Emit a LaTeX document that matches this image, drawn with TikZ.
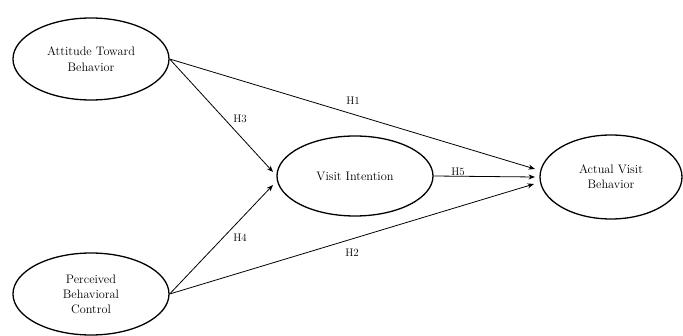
\documentclass[tikz,border=0pt]{standalone}
\usetikzlibrary{shapes.geometric,arrows.meta}
\begin{document}
\begin{tikzpicture}[x=1pt,y=-1pt,
  construct/.style={ellipse,draw,line width=1.3pt,inner sep=0pt,align=center,
    font=\fontsize{12.3}{15}\selectfont},
  path/.style={line width=0.8pt,-{Stealth[length=6.5pt,width=5pt]}},
  hlabel/.style={font=\fontsize{11}{12}\selectfont}]
  \useasboundingbox (0,0) rectangle (683,336);
  % latent constructs
  \node[construct,minimum width=156pt,minimum height=82pt] (att) at (91,59)
    {Attitude Toward\\[1.5pt]Behavior};
  \node[construct,minimum width=156pt,minimum height=82pt] (pbc) at (91,294)
    {Perceived\\Behavioral\\Control};
  \node[construct,minimum width=156pt,minimum height=80pt] (vi) at (355,176)
    {Visit Intention};
  \node[construct,minimum width=142pt,minimum height=84pt] (avb) at (611,177)
    {Actual Visit\\Behavior};
  % arrow tips stop short of the target ellipses
  \coordinate (viA) at (273,172);
  \coordinate (viB) at (273,185);
  \coordinate (avA) at (535,169);
  \coordinate (avB) at (535,177);
  \coordinate (avC) at (534,184);
  % hypothesised paths
  \draw[path] (att.east) -- (avA);
  \draw[path] (att.east) -- (viA);
  \draw[path] (pbc.east) -- (viB);
  \draw[path] (pbc.east) -- (avC);
  \draw[path] (vi.east) -- (avB);
  % path labels
  \node[hlabel] (h1) at (353,101) {H1};
  \node[hlabel] (h3) at (240,119) {H3};
  \node[hlabel] (h4) at (240,238) {H4};
  \node[hlabel] (h2) at (352,253) {H2};
  \node[hlabel] (h5) at (458,172) {H5};
\end{tikzpicture}
\end{document}
